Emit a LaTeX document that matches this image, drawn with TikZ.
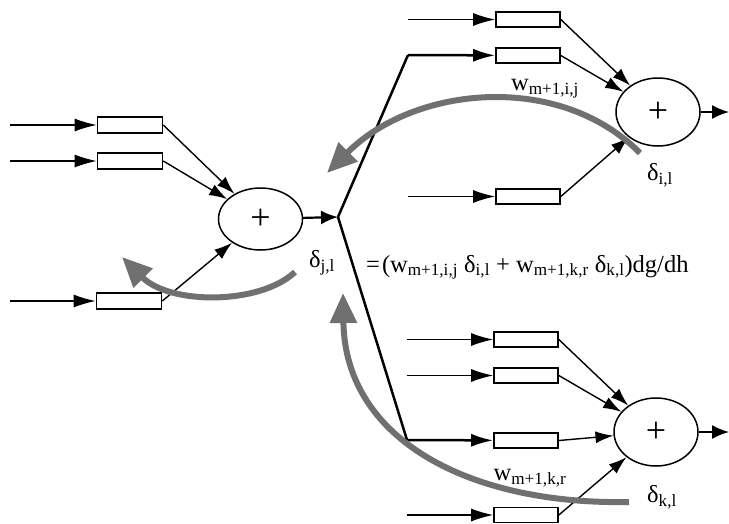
\documentclass[tikz,border=0pt]{standalone}
\usepackage{fontspec}
\setmainfont{Liberation Serif}
\usetikzlibrary{arrows.meta,shapes.geometric}
\definecolor{backgray}{RGB}{112,112,112}
\newcommand{\lbl}[2]{#1\textsubscript{#2}}
\begin{document}
\begin{tikzpicture}[x=1pt,y=-1pt,
  wbox/.style={draw, line width=1.6pt, minimum width=64pt, minimum height=15pt, inner sep=0pt},
  sumnode/.style={draw, ellipse, line width=1.5pt, minimum width=84pt, minimum height=68pt,
    inner sep=0pt, font=\fontsize{36}{36}\selectfont},
  inarrow/.style={line width=1.4pt, -{Latex[length=22pt,width=13pt]}},
  wtarrow/.style={line width=1.4pt, -{Latex[length=18pt,width=12pt]}},
  outarrow/.style={line width=1.7pt, -{Latex[length=17pt,width=14pt]}},
  branch/.style={line width=2.5pt},
  backflow/.style={draw=backgray, line width=6pt, -{Triangle[length=30pt,width=26pt]}},
  txt/.style={font=\fontsize{24.5}{24.5}\selectfont, inner sep=0pt}]
\useasboundingbox (0,0) rectangle (729,523);

% ---------- hidden unit j ----------
\node[wbox, minimum width=65pt, minimum height=16pt] (l1) at (130,125) {};
\node[wbox, minimum width=65pt, minimum height=16pt] (l2) at (130,161) {};
\node[wbox, minimum width=65pt, minimum height=16pt] (l3) at (129,301) {};
\coordinate (li1) at (10,125);
\coordinate (li2) at (10,161);
\coordinate (li3) at (10,301);
\draw[inarrow] (li1) -- (l1);
\draw[inarrow] (li2) -- (l2);
\draw[inarrow] (li3) -- (l3);
\node[sumnode, minimum height=62pt] (sj) at (260.5,219) {+};
\draw[wtarrow] (l1.east) -- (sj);
\draw[wtarrow] (l2.east) -- (sj);
\draw[wtarrow] (l3.east) -- (sj);

% fan-out of unit j
\coordinate (fork) at (338,217);
\coordinate (ct) at (408,55);
\coordinate (cb) at (407,440);
\draw[outarrow, line width=2.2pt] (sj) -- (fork);

% ---------- unit i (top) ----------
\node[wbox] (t1) at (528,19.5) {};
\node[wbox] (t2) at (528,55.5) {};
\node[wbox] (t3) at (528,196.5) {};
\coordinate (ti1) at (408,19.5);
\coordinate (ti3) at (408,196.5);
\draw[inarrow] (ti1) -- (t1);
\draw[inarrow] (ti3) -- (t3);
\draw[branch] (fork) -- (ct);
\draw[inarrow, line width=2.5pt] (ct) -- (t2);
\node[sumnode] (si) at (658,112) {+};
\draw[wtarrow] (t1.east) -- (si);
\draw[wtarrow] (t2.east) -- (si);
\draw[wtarrow] (t3.east) -- (si);
\coordinate (oi) at (729,112);
\draw[outarrow] (si) -- (oi);

% ---------- unit k (bottom) ----------
\node[wbox] (b1) at (526,339.5) {};
\node[wbox] (b2) at (526,375.5) {};
\node[wbox] (b3) at (526,440.5) {};
\node[wbox] (b4) at (526,515) {};
\coordinate (bi1) at (407,339.5);
\coordinate (bi2) at (407,375.5);
\coordinate (bi4) at (407,515);
\draw[inarrow] (bi1) -- (b1);
\draw[inarrow] (bi2) -- (b2);
\draw[inarrow] (bi4) -- (b4);
\draw[branch] (fork) -- (cb);
\draw[inarrow, line width=2.5pt] (cb) -- (b3);
\node[sumnode] (sk) at (656,432) {+};
\draw[wtarrow] (b1.east) -- (sk);
\draw[wtarrow] (b2.east) -- (sk);
\draw[wtarrow] (b3.east) -- (sk);
\draw[wtarrow] (b4.east) -- (sk);
\coordinate (ok) at (729,432);
\draw[outarrow] (sk) -- (ok);

% ---------- error signals flowing back ----------
\coordinate (ei0) at (640,153);
\coordinate (ei1) at (327,173);
\draw[backflow] (ei0) .. controls (560,72) and (415,85) .. (ei1);
\coordinate (ek0) at (629,502);
\coordinate (ek1) at (343,293);
\draw[backflow] (ek0) .. controls (470,505) and (345,440) .. (ek1);
\coordinate (ej0) at (295,272);
\coordinate (ej1) at (122,257);
\draw[backflow] (ej0) .. controls (260,305) and (170,305) .. (ej1);

% ---------- labels ----------
\node[txt] (wij) at (545,89) {\lbl{w}{m+1,i,j}};
\node[txt] (wkr) at (530,478) {\lbl{w}{m+1,k,r}};
\node[txt] (di) at (660,175) {\lbl{δ}{i,l}};
\node[txt] (dk) at (662,497) {\lbl{δ}{k,l}};
\node[txt] (dj) at (322,263) {\lbl{δ}{j,l}};
\node[txt, anchor=base west] (eq) at (366,272)
  {=\kern2pt(\lbl{w}{m+1,i,j} \lbl{δ}{i,l} + \lbl{w}{m+1,k,r} \lbl{δ}{k,l})dg/dh};
\end{tikzpicture}
\end{document}
